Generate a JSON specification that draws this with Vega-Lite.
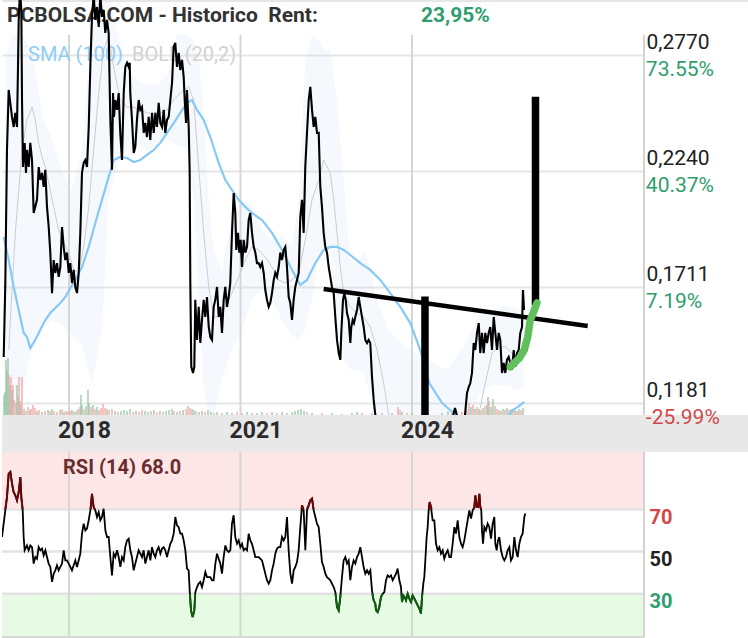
{
"$schema": "https://vega.github.io/schema/vega-lite/v6.json",
"padding": 0,
"background": "#ffffff",
"spacing": 37,
"bounds": "flush",
"config": {"view": {"stroke": null}, "font": "Roboto"},
"datasets": {
"price": [{"t":2016.858,"p":0.139},{"t":2016.886,"p":0.1728},{"t":2016.915,"p":0.2336},{"t":2016.945,"p":0.261},{"t":2016.973,"p":0.2551},{"t":2017.003,"p":0.2487},{"t":2017.033,"p":0.2441},{"t":2017.061,"p":0.2505},{"t":2017.09,"p":0.2441},{"t":2017.108,"p":0.2715},{"t":2017.12,"p":0.293},{"t":2017.143,"p":0.3067},{"t":2017.166,"p":0.2976},{"t":2017.178,"p":0.2564},{"t":2017.195,"p":0.2258},{"t":2017.225,"p":0.2368},{"t":2017.248,"p":0.2231},{"t":2017.265,"p":0.2336},{"t":2017.295,"p":0.2258},{"t":2017.323,"p":0.2368},{"t":2017.353,"p":0.229},{"t":2017.382,"p":0.2048},{"t":2017.41,"p":0.2076},{"t":2017.44,"p":0.2108},{"t":2017.47,"p":0.2258},{"t":2017.498,"p":0.2199},{"t":2017.528,"p":0.2231},{"t":2017.557,"p":0.2167},{"t":2017.585,"p":0.2245},{"t":2017.615,"p":0.2076},{"t":2017.645,"p":0.1984},{"t":2017.673,"p":0.1867},{"t":2017.703,"p":0.1682},{"t":2017.732,"p":0.1833},{"t":2017.76,"p":0.1774},{"t":2017.79,"p":0.1819},{"t":2017.82,"p":0.1756},{"t":2017.848,"p":0.1801},{"t":2017.878,"p":0.1984},{"t":2017.907,"p":0.1893},{"t":2017.935,"p":0.1833},{"t":2017.965,"p":0.1867},{"t":2017.995,"p":0.1774},{"t":2018.023,"p":0.1819},{"t":2018.052,"p":0.1728},{"t":2018.082,"p":0.1788},{"t":2018.11,"p":0.171},{"t":2018.14,"p":0.1682},{"t":2018.17,"p":0.1774},{"t":2018.198,"p":0.1957},{"t":2018.227,"p":0.2231},{"t":2018.257,"p":0.2277},{"t":2018.285,"p":0.229},{"t":2018.315,"p":0.2258},{"t":2018.345,"p":0.2441},{"t":2018.373,"p":0.2715},{"t":2018.402,"p":0.2944},{"t":2018.432,"p":0.3044},{"t":2018.46,"p":0.293},{"t":2018.49,"p":0.2989},{"t":2018.52,"p":0.2898},{"t":2018.548,"p":0.3044},{"t":2018.577,"p":0.2944},{"t":2018.607,"p":0.2976},{"t":2018.635,"p":0.2871},{"t":2018.665,"p":0.293},{"t":2018.694,"p":0.2871},{"t":2018.722,"p":0.2487},{"t":2018.752,"p":0.2245},{"t":2018.77,"p":0.2596},{"t":2018.787,"p":0.2487},{"t":2018.81,"p":0.2564},{"t":2018.84,"p":0.2519},{"t":2018.869,"p":0.2596},{"t":2018.897,"p":0.2414},{"t":2018.927,"p":0.229},{"t":2018.957,"p":0.2596},{"t":2018.985,"p":0.2715},{"t":2019.015,"p":0.2734},{"t":2019.044,"p":0.2715},{"t":2019.062,"p":0.2734},{"t":2019.072,"p":0.2596},{"t":2019.102,"p":0.2473},{"t":2019.132,"p":0.2322},{"t":2019.16,"p":0.235},{"t":2019.189,"p":0.2473},{"t":2019.219,"p":0.2564},{"t":2019.247,"p":0.2519},{"t":2019.277,"p":0.2532},{"t":2019.307,"p":0.2414},{"t":2019.335,"p":0.2459},{"t":2019.364,"p":0.2395},{"t":2019.394,"p":0.2487},{"t":2019.422,"p":0.2382},{"t":2019.452,"p":0.2505},{"t":2019.482,"p":0.2414},{"t":2019.51,"p":0.2505},{"t":2019.539,"p":0.2441},{"t":2019.569,"p":0.2551},{"t":2019.597,"p":0.2459},{"t":2019.627,"p":0.2441},{"t":2019.657,"p":0.2519},{"t":2019.684,"p":0.2414},{"t":2019.714,"p":0.2473},{"t":2019.744,"p":0.2487},{"t":2019.772,"p":0.2564},{"t":2019.802,"p":0.2642},{"t":2019.831,"p":0.2807},{"t":2019.859,"p":0.2825},{"t":2019.889,"p":0.2715},{"t":2019.919,"p":0.2779},{"t":2019.947,"p":0.2701},{"t":2019.977,"p":0.2747},{"t":2020.006,"p":0.267},{"t":2020.024,"p":0.2564},{"t":2020.047,"p":0.2459},{"t":2020.064,"p":0.261},{"t":2020.094,"p":0.2441},{"t":2020.111,"p":0.2231},{"t":2020.122,"p":0.1728},{"t":2020.139,"p":0.1345},{"t":2020.169,"p":0.1317},{"t":2020.192,"p":0.1345},{"t":2020.209,"p":0.1651},{"t":2020.239,"p":0.1468},{"t":2020.269,"p":0.1619},{"t":2020.297,"p":0.1454},{"t":2020.326,"p":0.1559},{"t":2020.356,"p":0.1651},{"t":2020.384,"p":0.1573},{"t":2020.414,"p":0.1664},{"t":2020.444,"p":0.1527},{"t":2020.472,"p":0.1481},{"t":2020.501,"p":0.1468},{"t":2020.531,"p":0.1619},{"t":2020.559,"p":0.1651},{"t":2020.589,"p":0.171},{"t":2020.619,"p":0.1573},{"t":2020.647,"p":0.1619},{"t":2020.676,"p":0.15},{"t":2020.706,"p":0.1651},{"t":2020.734,"p":0.171},{"t":2020.764,"p":0.1619},{"t":2020.793,"p":0.1664},{"t":2020.821,"p":0.1728},{"t":2020.851,"p":0.1957},{"t":2020.881,"p":0.2139},{"t":2020.909,"p":0.2048},{"t":2020.926,"p":0.1879},{"t":2020.956,"p":0.1957},{"t":2020.979,"p":0.1867},{"t":2021.003,"p":0.1925},{"t":2021.026,"p":0.1801},{"t":2021.056,"p":0.1925},{"t":2021.084,"p":0.1867},{"t":2021.114,"p":0.1893},{"t":2021.143,"p":0.2016},{"t":2021.171,"p":0.2048},{"t":2021.201,"p":0.1957},{"t":2021.231,"p":0.1893},{"t":2021.259,"p":0.1867},{"t":2021.288,"p":0.1819},{"t":2021.318,"p":0.1819},{"t":2021.346,"p":0.1801},{"t":2021.376,"p":0.1819},{"t":2021.406,"p":0.1774},{"t":2021.434,"p":0.1696},{"t":2021.463,"p":0.1651},{"t":2021.493,"p":0.1619},{"t":2021.521,"p":0.1637},{"t":2021.551,"p":0.1682},{"t":2021.581,"p":0.1742},{"t":2021.609,"p":0.1774},{"t":2021.638,"p":0.1756},{"t":2021.668,"p":0.1801},{"t":2021.696,"p":0.1867},{"t":2021.726,"p":0.1833},{"t":2021.756,"p":0.1879},{"t":2021.784,"p":0.1893},{"t":2021.813,"p":0.1801},{"t":2021.843,"p":0.1664},{"t":2021.871,"p":0.1637},{"t":2021.901,"p":0.1559},{"t":2021.93,"p":0.1651},{"t":2021.958,"p":0.171},{"t":2021.988,"p":0.1742},{"t":2022.018,"p":0.1774},{"t":2022.046,"p":0.203},{"t":2022.076,"p":0.2108},{"t":2022.105,"p":0.1957},{"t":2022.133,"p":0.2258},{"t":2022.163,"p":0.2414},{"t":2022.193,"p":0.2564},{"t":2022.221,"p":0.2624},{"t":2022.251,"p":0.2519},{"t":2022.28,"p":0.2441},{"t":2022.308,"p":0.2487},{"t":2022.338,"p":0.2414},{"t":2022.368,"p":0.2414},{"t":2022.396,"p":0.2167},{"t":2022.425,"p":0.2076},{"t":2022.455,"p":0.1957},{"t":2022.483,"p":0.1893},{"t":2022.513,"p":0.1867},{"t":2022.543,"p":0.1801},{"t":2022.571,"p":0.1756},{"t":2022.6,"p":0.171},{"t":2022.63,"p":0.1682},{"t":2022.658,"p":0.1573},{"t":2022.688,"p":0.1468},{"t":2022.718,"p":0.1408},{"t":2022.746,"p":0.1377},{"t":2022.763,"p":0.15},{"t":2022.793,"p":0.1651},{"t":2022.816,"p":0.1682},{"t":2022.84,"p":0.1651},{"t":2022.863,"p":0.1591},{"t":2022.893,"p":0.1559},{"t":2022.921,"p":0.1454},{"t":2022.938,"p":0.1527},{"t":2022.962,"p":0.1559},{"t":2022.985,"p":0.1545},{"t":2023.008,"p":0.1573},{"t":2023.038,"p":0.1605},{"t":2023.067,"p":0.1664},{"t":2023.095,"p":0.1619},{"t":2023.125,"p":0.1573},{"t":2023.155,"p":0.1527},{"t":2023.183,"p":0.1468},{"t":2023.213,"p":0.1454},{"t":2023.242,"p":0.1468},{"t":2023.27,"p":0.1454},{"t":2023.3,"p":0.1299},{"t":2023.33,"p":0.1194},{"t":2023.358,"p":0.1125},{"t":2023.388,"p":0.108},{"t":2023.475,"p":0.1011},{"t":2023.65,"p":0.0942},{"t":2023.825,"p":0.0874},{"t":2024.0,"p":0.0828},{"t":2024.087,"p":0.0874},{"t":2024.175,"p":0.0965},{"t":2024.262,"p":0.1058},{"t":2024.35,"p":0.1011},{"t":2024.525,"p":0.1034},{"t":2024.699,"p":0.1102},{"t":2024.752,"p":0.1157},{"t":2024.804,"p":0.1102},{"t":2024.874,"p":0.108},{"t":2024.927,"p":0.1125},{"t":2024.962,"p":0.1226},{"t":2024.992,"p":0.1253},{"t":2025.02,"p":0.1271},{"t":2025.049,"p":0.1317},{"t":2025.079,"p":0.1454},{"t":2025.107,"p":0.1422},{"t":2025.137,"p":0.15},{"t":2025.167,"p":0.1545},{"t":2025.194,"p":0.1408},{"t":2025.224,"p":0.15},{"t":2025.254,"p":0.1408},{"t":2025.282,"p":0.15},{"t":2025.312,"p":0.1454},{"t":2025.341,"p":0.15},{"t":2025.369,"p":0.1527},{"t":2025.399,"p":0.1422},{"t":2025.429,"p":0.1573},{"t":2025.457,"p":0.15},{"t":2025.487,"p":0.1422},{"t":2025.516,"p":0.15},{"t":2025.544,"p":0.1468},{"t":2025.574,"p":0.1317},{"t":2025.604,"p":0.1363},{"t":2025.632,"p":0.1317},{"t":2025.661,"p":0.1377},{"t":2025.691,"p":0.139},{"t":2025.719,"p":0.1363},{"t":2025.749,"p":0.1332},{"t":2025.779,"p":0.1422},{"t":2025.807,"p":0.1345},{"t":2025.836,"p":0.1408},{"t":2025.866,"p":0.1422},{"t":2025.894,"p":0.15},{"t":2025.924,"p":0.1527},{"t":2025.941,"p":0.1696},{"t":2025.959,"p":0.1605}],
"sma": [{"t":2016.858,"p":0.1938},{"t":2016.945,"p":0.1833},{"t":2017.033,"p":0.171},{"t":2017.12,"p":0.1605},{"t":2017.208,"p":0.15},{"t":2017.265,"p":0.1481},{"t":2017.323,"p":0.1431},{"t":2017.41,"p":0.1468},{"t":2017.498,"p":0.1514},{"t":2017.585,"p":0.1559},{"t":2017.673,"p":0.1591},{"t":2017.76,"p":0.1614},{"t":2017.848,"p":0.1637},{"t":2017.935,"p":0.1664},{"t":2018.023,"p":0.1705},{"t":2018.11,"p":0.1742},{"t":2018.227,"p":0.1801},{"t":2018.345,"p":0.1893},{"t":2018.46,"p":0.2002},{"t":2018.577,"p":0.2108},{"t":2018.694,"p":0.2213},{"t":2018.782,"p":0.229},{"t":2018.897,"p":0.2304},{"t":2019.015,"p":0.2299},{"t":2019.132,"p":0.2281},{"t":2019.247,"p":0.229},{"t":2019.364,"p":0.2313},{"t":2019.482,"p":0.2336},{"t":2019.597,"p":0.2368},{"t":2019.714,"p":0.2414},{"t":2019.831,"p":0.2459},{"t":2019.947,"p":0.2505},{"t":2020.064,"p":0.2551},{"t":2020.152,"p":0.2564},{"t":2020.239,"p":0.2519},{"t":2020.356,"p":0.2473},{"t":2020.472,"p":0.2395},{"t":2020.619,"p":0.2277},{"t":2020.734,"p":0.2199},{"t":2020.851,"p":0.2153},{"t":2020.968,"p":0.2108},{"t":2021.084,"p":0.2076},{"t":2021.201,"p":0.2048},{"t":2021.376,"p":0.2016},{"t":2021.551,"p":0.1957},{"t":2021.726,"p":0.1879},{"t":2021.901,"p":0.1788},{"t":2022.046,"p":0.1719},{"t":2022.163,"p":0.1742},{"t":2022.308,"p":0.1819},{"t":2022.455,"p":0.1879},{"t":2022.571,"p":0.1893},{"t":2022.688,"p":0.1893},{"t":2022.805,"p":0.1879},{"t":2022.921,"p":0.1856},{"t":2023.095,"p":0.1819},{"t":2023.27,"p":0.1788},{"t":2023.445,"p":0.1742},{"t":2023.62,"p":0.1682},{"t":2023.795,"p":0.1619},{"t":2023.97,"p":0.1545},{"t":2024.145,"p":0.1422},{"t":2024.302,"p":0.1271},{"t":2024.525,"p":0.118},{"t":2024.769,"p":0.1125},{"t":2024.962,"p":0.108},{"t":2025.224,"p":0.1057},{"t":2025.487,"p":0.108},{"t":2025.661,"p":0.1111},{"t":2025.761,"p":0.1148},{"t":2025.854,"p":0.1162},{"t":2025.964,"p":0.1185}],
"boll": [{"t":2016.945,"p":0.1422},{"t":2017.061,"p":0.1957},{"t":2017.178,"p":0.2336},{"t":2017.265,"p":0.2473},{"t":2017.353,"p":0.2532},{"t":2017.41,"p":0.2473},{"t":2017.47,"p":0.2368},{"t":2017.528,"p":0.2304},{"t":2017.585,"p":0.2258},{"t":2017.645,"p":0.2185},{"t":2017.732,"p":0.2076},{"t":2017.82,"p":0.197},{"t":2017.907,"p":0.1911},{"t":2017.995,"p":0.1867},{"t":2018.082,"p":0.1788},{"t":2018.17,"p":0.1774},{"t":2018.257,"p":0.1893},{"t":2018.345,"p":0.2076},{"t":2018.432,"p":0.2336},{"t":2018.52,"p":0.2596},{"t":2018.607,"p":0.2793},{"t":2018.694,"p":0.2852},{"t":2018.782,"p":0.2715},{"t":2018.897,"p":0.2564},{"t":2019.015,"p":0.2532},{"t":2019.132,"p":0.2532},{"t":2019.247,"p":0.2519},{"t":2019.364,"p":0.2505},{"t":2019.482,"p":0.2505},{"t":2019.597,"p":0.2505},{"t":2019.714,"p":0.2519},{"t":2019.831,"p":0.2564},{"t":2019.947,"p":0.2596},{"t":2020.094,"p":0.2624},{"t":2020.181,"p":0.2564},{"t":2020.269,"p":0.2258},{"t":2020.356,"p":0.1957},{"t":2020.444,"p":0.171},{"t":2020.531,"p":0.1573},{"t":2020.619,"p":0.1573},{"t":2020.734,"p":0.1619},{"t":2020.851,"p":0.1682},{"t":2020.968,"p":0.1756},{"t":2021.084,"p":0.1833},{"t":2021.201,"p":0.1893},{"t":2021.318,"p":0.1879},{"t":2021.434,"p":0.1847},{"t":2021.551,"p":0.1801},{"t":2021.668,"p":0.1742},{"t":2021.784,"p":0.1728},{"t":2021.901,"p":0.1742},{"t":2022.018,"p":0.1774},{"t":2022.133,"p":0.1925},{"t":2022.251,"p":0.2108},{"t":2022.368,"p":0.2199},{"t":2022.455,"p":0.229},{"t":2022.571,"p":0.2231},{"t":2022.63,"p":0.2108},{"t":2022.688,"p":0.1957},{"t":2022.746,"p":0.1801},{"t":2022.805,"p":0.1682},{"t":2022.921,"p":0.1619},{"t":2023.038,"p":0.1591},{"t":2023.155,"p":0.1573},{"t":2023.27,"p":0.1527},{"t":2023.388,"p":0.1422},{"t":2023.505,"p":0.1271},{"t":2023.592,"p":0.1125},{"t":2023.737,"p":0.1011},{"t":2024.175,"p":0.092},{"t":2024.612,"p":0.1011},{"t":2025.049,"p":0.108},{"t":2025.167,"p":0.1125},{"t":2025.282,"p":0.1271},{"t":2025.399,"p":0.1408},{"t":2025.516,"p":0.1436},{"t":2025.632,"p":0.1436},{"t":2025.749,"p":0.1408},{"t":2025.866,"p":0.139},{"t":2025.954,"p":0.1399}],
"band": [{"t":2016.886,"lo":0.1125,"hi":0.2747},{"t":2017.003,"lo":0.1125,"hi":0.2861},{"t":2017.178,"lo":0.1239,"hi":0.2861},{"t":2017.353,"lo":0.1422,"hi":0.2793},{"t":2017.528,"lo":0.1514,"hi":0.2496},{"t":2017.703,"lo":0.1559,"hi":0.2382},{"t":2017.878,"lo":0.1536,"hi":0.2245},{"t":2018.052,"lo":0.1491,"hi":0.2153},{"t":2018.227,"lo":0.1445,"hi":0.2336},{"t":2018.402,"lo":0.1262,"hi":0.293},{"t":2018.577,"lo":0.1514,"hi":0.3021},{"t":2018.694,"lo":0.2108,"hi":0.3021},{"t":2018.84,"lo":0.2267,"hi":0.2884},{"t":2019.015,"lo":0.2336,"hi":0.2701},{"t":2019.189,"lo":0.2359,"hi":0.2656},{"t":2019.364,"lo":0.2336,"hi":0.2633},{"t":2019.539,"lo":0.2359,"hi":0.2633},{"t":2019.714,"lo":0.2382,"hi":0.2679},{"t":2019.889,"lo":0.2359,"hi":0.2861},{"t":2020.064,"lo":0.2336,"hi":0.2861},{"t":2020.181,"lo":0.2108,"hi":0.2839},{"t":2020.269,"lo":0.1651,"hi":0.2747},{"t":2020.356,"lo":0.1239,"hi":0.2519},{"t":2020.444,"lo":0.1125,"hi":0.2108},{"t":2020.531,"lo":0.1125,"hi":0.1879},{"t":2020.676,"lo":0.1285,"hi":0.1788},{"t":2020.851,"lo":0.1422,"hi":0.2039},{"t":2021.026,"lo":0.1514,"hi":0.2108},{"t":2021.201,"lo":0.1651,"hi":0.2085},{"t":2021.376,"lo":0.1696,"hi":0.197},{"t":2021.551,"lo":0.1651,"hi":0.1925},{"t":2021.726,"lo":0.1559,"hi":0.1948},{"t":2021.901,"lo":0.1491,"hi":0.1902},{"t":2022.018,"lo":0.1468,"hi":0.2108},{"t":2022.133,"lo":0.1514,"hi":0.2747},{"t":2022.251,"lo":0.1651,"hi":0.2861},{"t":2022.368,"lo":0.1856,"hi":0.2839},{"t":2022.455,"lo":0.1879,"hi":0.2793},{"t":2022.571,"lo":0.1879,"hi":0.2793},{"t":2022.688,"lo":0.1514,"hi":0.2564},{"t":2022.805,"lo":0.1377,"hi":0.2199},{"t":2022.921,"lo":0.1331,"hi":0.1833},{"t":2023.038,"lo":0.1331,"hi":0.181},{"t":2023.155,"lo":0.1308,"hi":0.1879},{"t":2023.27,"lo":0.1217,"hi":0.1788},{"t":2023.388,"lo":0.105,"hi":0.1651},{"t":2023.592,"lo":0.095,"hi":0.1514},{"t":2023.825,"lo":0.09,"hi":0.1445},{"t":2024.175,"lo":0.09,"hi":0.139},{"t":2024.612,"lo":0.095,"hi":0.1331},{"t":2024.962,"lo":0.1,"hi":0.1468},{"t":2025.167,"lo":0.1217,"hi":0.1582},{"t":2025.399,"lo":0.1262,"hi":0.1605},{"t":2025.632,"lo":0.1262,"hi":0.1628},{"t":2025.866,"lo":0.1239,"hi":0.1605},{"t":2025.954,"lo":0.1262,"hi":0.1596}],
"vol": [{"t":2016.863,"v":20,"d":"u"},{"t":2016.88,"v":23,"d":"u"},{"t":2016.898,"v":55,"d":"u"},{"t":2016.915,"v":45,"d":"u"},{"t":2016.933,"v":57,"d":"u"},{"t":2016.95,"v":40,"d":"d"},{"t":2016.968,"v":30,"d":"u"},{"t":2016.985,"v":38,"d":"d"},{"t":2017.003,"v":25,"d":"u"},{"t":2017.02,"v":30,"d":"d"},{"t":2017.038,"v":15,"d":"d"},{"t":2017.073,"v":12,"d":"u"},{"t":2017.09,"v":30,"d":"u"},{"t":2017.108,"v":20,"d":"d"},{"t":2017.125,"v":38,"d":"d"},{"t":2017.143,"v":14,"d":"u"},{"t":2017.16,"v":10,"d":"d"},{"t":2017.178,"v":38,"d":"d"},{"t":2017.213,"v":6,"d":"u"},{"t":2017.248,"v":4,"d":"d"},{"t":2017.283,"v":8,"d":"d"},{"t":2017.318,"v":5,"d":"u"},{"t":2017.335,"v":6,"d":"d"},{"t":2017.37,"v":10,"d":"d"},{"t":2017.405,"v":7,"d":"d"},{"t":2017.44,"v":4,"d":"u"},{"t":2017.475,"v":5,"d":"d"},{"t":2017.528,"v":3,"d":"u"},{"t":2017.58,"v":4,"d":"d"},{"t":2017.633,"v":5,"d":"u"},{"t":2017.668,"v":4,"d":"d"},{"t":2017.703,"v":6,"d":"u"},{"t":2017.738,"v":4,"d":"d"},{"t":2017.79,"v":3,"d":"d"},{"t":2017.843,"v":5,"d":"u"},{"t":2017.878,"v":6,"d":"d"},{"t":2017.913,"v":3,"d":"u"},{"t":2017.948,"v":4,"d":"d"},{"t":2017.982,"v":3,"d":"d"},{"t":2018.017,"v":4,"d":"d"},{"t":2018.052,"v":5,"d":"u"},{"t":2018.087,"v":3,"d":"u"},{"t":2018.122,"v":4,"d":"d"},{"t":2018.157,"v":6,"d":"u"},{"t":2018.192,"v":8,"d":"d"},{"t":2018.21,"v":20,"d":"u"},{"t":2018.227,"v":10,"d":"u"},{"t":2018.262,"v":6,"d":"d"},{"t":2018.297,"v":9,"d":"u"},{"t":2018.332,"v":25,"d":"u"},{"t":2018.35,"v":12,"d":"u"},{"t":2018.385,"v":8,"d":"d"},{"t":2018.42,"v":10,"d":"u"},{"t":2018.455,"v":6,"d":"d"},{"t":2018.49,"v":8,"d":"u"},{"t":2018.525,"v":5,"d":"d"},{"t":2018.56,"v":7,"d":"d"},{"t":2018.595,"v":11,"d":"d"},{"t":2018.63,"v":7,"d":"d"},{"t":2018.665,"v":6,"d":"u"},{"t":2018.7,"v":5,"d":"d"},{"t":2018.752,"v":6,"d":"d"},{"t":2018.805,"v":4,"d":"u"},{"t":2018.857,"v":3,"d":"d"},{"t":2018.91,"v":4,"d":"u"},{"t":2018.962,"v":5,"d":"u"},{"t":2019.015,"v":4,"d":"u"},{"t":2019.067,"v":6,"d":"u"},{"t":2019.12,"v":3,"d":"d"},{"t":2019.172,"v":4,"d":"u"},{"t":2019.224,"v":3,"d":"d"},{"t":2019.277,"v":5,"d":"d"},{"t":2019.329,"v":4,"d":"u"},{"t":2019.382,"v":3,"d":"u"},{"t":2019.434,"v":4,"d":"d"},{"t":2019.486,"v":5,"d":"u"},{"t":2019.539,"v":3,"d":"d"},{"t":2019.591,"v":4,"d":"u"},{"t":2019.644,"v":3,"d":"d"},{"t":2019.697,"v":4,"d":"u"},{"t":2019.749,"v":5,"d":"u"},{"t":2019.802,"v":6,"d":"u"},{"t":2019.837,"v":4,"d":"d"},{"t":2019.889,"v":3,"d":"u"},{"t":2019.942,"v":4,"d":"d"},{"t":2019.995,"v":5,"d":"u"},{"t":2020.047,"v":6,"d":"d"},{"t":2020.082,"v":9,"d":"d"},{"t":2020.117,"v":7,"d":"d"},{"t":2020.152,"v":6,"d":"u"},{"t":2020.186,"v":5,"d":"u"},{"t":2020.221,"v":4,"d":"d"},{"t":2020.274,"v":3,"d":"u"},{"t":2020.326,"v":4,"d":"u"},{"t":2020.379,"v":3,"d":"d"},{"t":2020.431,"v":5,"d":"u"},{"t":2020.484,"v":3,"d":"u"},{"t":2020.536,"v":2,"d":"d"},{"t":2020.589,"v":3,"d":"u"},{"t":2020.676,"v":2,"d":"d"},{"t":2020.764,"v":3,"d":"u"},{"t":2020.851,"v":2,"d":"u"},{"t":2020.939,"v":3,"d":"d"},{"t":2021.026,"v":2,"d":"d"},{"t":2021.113,"v":3,"d":"u"},{"t":2021.201,"v":2,"d":"d"},{"t":2021.288,"v":2,"d":"u"},{"t":2021.376,"v":3,"d":"u"},{"t":2021.463,"v":2,"d":"d"},{"t":2021.551,"v":3,"d":"u"},{"t":2021.638,"v":2,"d":"d"},{"t":2021.726,"v":3,"d":"u"},{"t":2021.813,"v":2,"d":"d"},{"t":2021.901,"v":3,"d":"u"},{"t":2021.953,"v":4,"d":"u"},{"t":2022.006,"v":5,"d":"u"},{"t":2022.058,"v":6,"d":"u"},{"t":2022.111,"v":4,"d":"u"},{"t":2022.163,"v":3,"d":"d"},{"t":2022.251,"v":2,"d":"u"},{"t":2022.425,"v":2,"d":"d"},{"t":2022.6,"v":2,"d":"u"},{"t":2022.775,"v":1,"d":"d"},{"t":2022.95,"v":2,"d":"u"},{"t":2023.038,"v":3,"d":"u"},{"t":2023.125,"v":2,"d":"d"},{"t":2023.3,"v":2,"d":"u"},{"t":2023.475,"v":2,"d":"d"},{"t":2023.65,"v":2,"d":"d"},{"t":2023.755,"v":8,"d":"d"},{"t":2023.79,"v":5,"d":"d"},{"t":2023.825,"v":3,"d":"u"},{"t":2023.912,"v":2,"d":"d"},{"t":2024.0,"v":2,"d":"u"},{"t":2024.175,"v":2,"d":"d"},{"t":2024.525,"v":2,"d":"u"},{"t":2024.629,"v":4,"d":"u"},{"t":2024.699,"v":3,"d":"d"},{"t":2024.787,"v":2,"d":"u"},{"t":2024.874,"v":3,"d":"d"},{"t":2024.962,"v":5,"d":"d"},{"t":2024.997,"v":12,"d":"d"},{"t":2025.032,"v":8,"d":"u"},{"t":2025.067,"v":10,"d":"d"},{"t":2025.102,"v":6,"d":"u"},{"t":2025.137,"v":8,"d":"d"},{"t":2025.172,"v":6,"d":"u"},{"t":2025.207,"v":5,"d":"d"},{"t":2025.242,"v":7,"d":"u"},{"t":2025.277,"v":9,"d":"d"},{"t":2025.312,"v":10,"d":"u"},{"t":2025.329,"v":18,"d":"u"},{"t":2025.347,"v":14,"d":"d"},{"t":2025.382,"v":8,"d":"u"},{"t":2025.417,"v":16,"d":"u"},{"t":2025.452,"v":9,"d":"d"},{"t":2025.487,"v":6,"d":"d"},{"t":2025.522,"v":5,"d":"u"},{"t":2025.556,"v":4,"d":"d"},{"t":2025.591,"v":6,"d":"u"},{"t":2025.626,"v":5,"d":"d"},{"t":2025.661,"v":7,"d":"u"},{"t":2025.696,"v":5,"d":"d"},{"t":2025.731,"v":6,"d":"u"},{"t":2025.766,"v":4,"d":"d"},{"t":2025.801,"v":5,"d":"u"},{"t":2025.836,"v":4,"d":"d"},{"t":2025.871,"v":6,"d":"u"},{"t":2025.906,"v":5,"d":"d"},{"t":2025.941,"v":7,"d":"u"}],
"draw": [{"t":2022.455,"p":0.1701,"g":"trend"},{"t":2027.073,"p":0.1532,"g":"trend"},{"t":2024.227,"p":0.1666,"g":"v1"},{"t":2024.227,"p":0.09,"g":"v1"},{"t":2026.16,"p":0.2579,"g":"v2"},{"t":2026.16,"p":0.1628,"g":"v2"},{"t":2025.719,"p":0.1345,"g":"green"},{"t":2025.877,"p":0.1385,"g":"green"},{"t":2025.964,"p":0.1422,"g":"green"},{"t":2026.023,"p":0.1481,"g":"green"},{"t":2026.069,"p":0.1559,"g":"green"},{"t":2026.128,"p":0.1596,"g":"green"},{"t":2026.186,"p":0.1637,"g":"green"}],
"pct": [{"p":0.277,"lab":"73.55%"},{"p":0.224,"lab":"40.37%"},{"p":0.1711,"lab":"7.19%"},{"p":0.1181,"lab":"-25.99%"}],
"years": [{"t":2018},{"t":2021},{"t":2024}],
"rsi": [{"t":2016.828,"r":56.9},{"t":2016.886,"r":69.5},{"t":2016.915,"r":75.8},{"t":2016.945,"r":86.9},{"t":2016.974,"r":87.7},{"t":2017.003,"r":82.2},{"t":2017.032,"r":78.2},{"t":2017.061,"r":76.6},{"t":2017.09,"r":74.3},{"t":2017.12,"r":78.2},{"t":2017.149,"r":85.3},{"t":2017.166,"r":75.8},{"t":2017.19,"r":69.5},{"t":2017.207,"r":56.9},{"t":2017.224,"r":50.6},{"t":2017.265,"r":52.9},{"t":2017.294,"r":50.6},{"t":2017.324,"r":52.9},{"t":2017.353,"r":52.1},{"t":2017.382,"r":44.3},{"t":2017.411,"r":47.4},{"t":2017.44,"r":46.6},{"t":2017.469,"r":52.1},{"t":2017.499,"r":50.6},{"t":2017.528,"r":51.4},{"t":2017.557,"r":48.2},{"t":2017.586,"r":50.6},{"t":2017.615,"r":47.4},{"t":2017.644,"r":44.3},{"t":2017.673,"r":42.7},{"t":2017.703,"r":35.6},{"t":2017.732,"r":39.5},{"t":2017.761,"r":41.1},{"t":2017.79,"r":43.5},{"t":2017.819,"r":41.1},{"t":2017.848,"r":42.7},{"t":2017.878,"r":44.3},{"t":2017.907,"r":50.6},{"t":2017.936,"r":45.8},{"t":2017.965,"r":45.8},{"t":2017.994,"r":44.3},{"t":2018.023,"r":42.7},{"t":2018.052,"r":41.1},{"t":2018.082,"r":43.5},{"t":2018.111,"r":45.8},{"t":2018.14,"r":42.7},{"t":2018.169,"r":45.8},{"t":2018.198,"r":49.0},{"t":2018.227,"r":58.5},{"t":2018.257,"r":63.2},{"t":2018.286,"r":60.0},{"t":2018.315,"r":60.9},{"t":2018.344,"r":64.8},{"t":2018.373,"r":69.5},{"t":2018.402,"r":77.4},{"t":2018.431,"r":71.1},{"t":2018.461,"r":69.5},{"t":2018.49,"r":66.4},{"t":2018.519,"r":68.7},{"t":2018.548,"r":64.8},{"t":2018.577,"r":66.4},{"t":2018.606,"r":70.3},{"t":2018.636,"r":60.0},{"t":2018.665,"r":56.9},{"t":2018.694,"r":56.9},{"t":2018.723,"r":47.4},{"t":2018.752,"r":38.7},{"t":2018.781,"r":49.0},{"t":2018.81,"r":47.4},{"t":2018.84,"r":50.6},{"t":2018.869,"r":47.4},{"t":2018.898,"r":42.7},{"t":2018.927,"r":47.4},{"t":2018.956,"r":45.8},{"t":2018.985,"r":52.1},{"t":2019.015,"r":55.3},{"t":2019.044,"r":56.1},{"t":2019.073,"r":50.6},{"t":2019.102,"r":47.4},{"t":2019.131,"r":41.1},{"t":2019.16,"r":44.3},{"t":2019.189,"r":47.4},{"t":2019.219,"r":50.6},{"t":2019.248,"r":49.0},{"t":2019.277,"r":47.4},{"t":2019.306,"r":50.6},{"t":2019.335,"r":44.3},{"t":2019.364,"r":47.4},{"t":2019.393,"r":50.6},{"t":2019.423,"r":45.8},{"t":2019.452,"r":52.1},{"t":2019.481,"r":49.0},{"t":2019.51,"r":47.4},{"t":2019.539,"r":50.6},{"t":2019.568,"r":52.1},{"t":2019.598,"r":49.0},{"t":2019.627,"r":51.4},{"t":2019.656,"r":52.1},{"t":2019.685,"r":50.6},{"t":2019.714,"r":47.4},{"t":2019.743,"r":50.6},{"t":2019.772,"r":53.7},{"t":2019.802,"r":55.3},{"t":2019.831,"r":58.5},{"t":2019.86,"r":66.4},{"t":2019.889,"r":62.4},{"t":2019.918,"r":61.6},{"t":2019.947,"r":58.5},{"t":2019.977,"r":58.5},{"t":2020.006,"r":55.3},{"t":2020.035,"r":50.6},{"t":2020.064,"r":41.9},{"t":2020.093,"r":41.1},{"t":2020.111,"r":31.6},{"t":2020.134,"r":22.1},{"t":2020.163,"r":19.0},{"t":2020.192,"r":22.1},{"t":2020.21,"r":30.8},{"t":2020.239,"r":33.2},{"t":2020.268,"r":34.8},{"t":2020.297,"r":35.6},{"t":2020.326,"r":33.2},{"t":2020.356,"r":36.4},{"t":2020.385,"r":40.3},{"t":2020.414,"r":37.9},{"t":2020.443,"r":37.9},{"t":2020.472,"r":37.9},{"t":2020.501,"r":36.4},{"t":2020.53,"r":36.4},{"t":2020.56,"r":44.3},{"t":2020.589,"r":49.0},{"t":2020.618,"r":46.6},{"t":2020.647,"r":44.3},{"t":2020.676,"r":39.5},{"t":2020.705,"r":47.4},{"t":2020.735,"r":52.9},{"t":2020.764,"r":50.6},{"t":2020.793,"r":49.8},{"t":2020.822,"r":50.6},{"t":2020.851,"r":63.2},{"t":2020.88,"r":67.2},{"t":2020.909,"r":56.9},{"t":2020.939,"r":53.7},{"t":2020.968,"r":55.3},{"t":2020.997,"r":52.1},{"t":2021.026,"r":53.7},{"t":2021.055,"r":50.6},{"t":2021.084,"r":51.4},{"t":2021.114,"r":50.6},{"t":2021.143,"r":58.5},{"t":2021.172,"r":55.3},{"t":2021.201,"r":53.7},{"t":2021.23,"r":50.6},{"t":2021.259,"r":47.4},{"t":2021.318,"r":47.4},{"t":2021.376,"r":45.8},{"t":2021.405,"r":42.7},{"t":2021.434,"r":39.5},{"t":2021.463,"r":36.4},{"t":2021.493,"r":34.8},{"t":2021.522,"r":36.4},{"t":2021.551,"r":41.1},{"t":2021.58,"r":44.3},{"t":2021.609,"r":49.0},{"t":2021.638,"r":51.4},{"t":2021.667,"r":52.1},{"t":2021.697,"r":52.1},{"t":2021.726,"r":56.9},{"t":2021.755,"r":55.3},{"t":2021.784,"r":56.9},{"t":2021.813,"r":66.4},{"t":2021.842,"r":50.6},{"t":2021.872,"r":39.5},{"t":2021.901,"r":34.8},{"t":2021.93,"r":41.1},{"t":2021.959,"r":42.7},{"t":2021.988,"r":45.0},{"t":2022.017,"r":50.6},{"t":2022.046,"r":61.6},{"t":2022.076,"r":71.9},{"t":2022.105,"r":69.5},{"t":2022.134,"r":50.6},{"t":2022.163,"r":69.5},{"t":2022.192,"r":71.9},{"t":2022.221,"r":74.3},{"t":2022.251,"r":75.1},{"t":2022.28,"r":69.5},{"t":2022.309,"r":66.4},{"t":2022.338,"r":63.2},{"t":2022.367,"r":61.6},{"t":2022.396,"r":53.7},{"t":2022.425,"r":45.0},{"t":2022.455,"r":42.7},{"t":2022.484,"r":39.5},{"t":2022.513,"r":37.9},{"t":2022.542,"r":37.2},{"t":2022.571,"r":36.4},{"t":2022.6,"r":34.8},{"t":2022.63,"r":33.2},{"t":2022.659,"r":30.8},{"t":2022.688,"r":23.7},{"t":2022.717,"r":22.1},{"t":2022.746,"r":28.4},{"t":2022.775,"r":37.9},{"t":2022.804,"r":45.8},{"t":2022.834,"r":47.4},{"t":2022.863,"r":44.3},{"t":2022.892,"r":45.8},{"t":2022.921,"r":36.4},{"t":2022.95,"r":42.7},{"t":2022.979,"r":45.8},{"t":2023.009,"r":44.3},{"t":2023.038,"r":47.4},{"t":2023.067,"r":49.0},{"t":2023.096,"r":52.1},{"t":2023.125,"r":47.4},{"t":2023.154,"r":42.7},{"t":2023.183,"r":39.5},{"t":2023.213,"r":41.1},{"t":2023.242,"r":39.5},{"t":2023.271,"r":41.1},{"t":2023.3,"r":31.6},{"t":2023.329,"r":26.9},{"t":2023.358,"r":25.3},{"t":2023.37,"r":22.1},{"t":2023.399,"r":21.3},{"t":2023.428,"r":23.7},{"t":2023.457,"r":28.4},{"t":2023.487,"r":30.0},{"t":2023.516,"r":30.8},{"t":2023.545,"r":36.4},{"t":2023.574,"r":38.7},{"t":2023.603,"r":37.9},{"t":2023.632,"r":38.7},{"t":2023.662,"r":36.4},{"t":2023.691,"r":37.9},{"t":2023.72,"r":39.5},{"t":2023.749,"r":41.9},{"t":2023.778,"r":36.4},{"t":2023.807,"r":33.2},{"t":2023.825,"r":26.1},{"t":2023.848,"r":29.2},{"t":2023.871,"r":28.4},{"t":2023.895,"r":26.9},{"t":2023.924,"r":30.0},{"t":2023.953,"r":27.7},{"t":2023.982,"r":26.1},{"t":2024.011,"r":29.2},{"t":2024.041,"r":27.7},{"t":2024.07,"r":26.1},{"t":2024.099,"r":24.5},{"t":2024.128,"r":23.0},{"t":2024.157,"r":20.6},{"t":2024.175,"r":28.4},{"t":2024.198,"r":34.8},{"t":2024.215,"r":37.9},{"t":2024.233,"r":45.8},{"t":2024.256,"r":56.9},{"t":2024.274,"r":61.6},{"t":2024.291,"r":69.5},{"t":2024.309,"r":73.5},{"t":2024.332,"r":71.1},{"t":2024.361,"r":64.8},{"t":2024.39,"r":64.8},{"t":2024.42,"r":53.7},{"t":2024.449,"r":50.6},{"t":2024.478,"r":52.1},{"t":2024.507,"r":49.0},{"t":2024.536,"r":50.6},{"t":2024.565,"r":46.6},{"t":2024.594,"r":49.0},{"t":2024.624,"r":50.6},{"t":2024.653,"r":47.4},{"t":2024.682,"r":47.4},{"t":2024.711,"r":53.7},{"t":2024.74,"r":61.6},{"t":2024.769,"r":58.5},{"t":2024.799,"r":64.8},{"t":2024.828,"r":56.9},{"t":2024.857,"r":53.7},{"t":2024.886,"r":52.1},{"t":2024.915,"r":55.3},{"t":2024.944,"r":60.0},{"t":2024.973,"r":64.8},{"t":2025.003,"r":69.5},{"t":2025.032,"r":65.6},{"t":2025.061,"r":69.5},{"t":2025.09,"r":71.1},{"t":2025.108,"r":76.6},{"t":2025.131,"r":71.1},{"t":2025.154,"r":71.1},{"t":2025.178,"r":77.4},{"t":2025.195,"r":71.1},{"t":2025.212,"r":69.5},{"t":2025.224,"r":60.0},{"t":2025.242,"r":53.7},{"t":2025.265,"r":61.6},{"t":2025.294,"r":60.0},{"t":2025.323,"r":63.2},{"t":2025.352,"r":61.6},{"t":2025.382,"r":56.1},{"t":2025.411,"r":63.2},{"t":2025.44,"r":66.4},{"t":2025.457,"r":53.7},{"t":2025.481,"r":50.6},{"t":2025.504,"r":55.3},{"t":2025.527,"r":56.9},{"t":2025.557,"r":50.6},{"t":2025.586,"r":47.4},{"t":2025.615,"r":45.8},{"t":2025.644,"r":47.4},{"t":2025.673,"r":50.6},{"t":2025.702,"r":52.1},{"t":2025.731,"r":45.8},{"t":2025.761,"r":47.4},{"t":2025.79,"r":56.9},{"t":2025.819,"r":50.6},{"t":2025.848,"r":47.4},{"t":2025.877,"r":53.7},{"t":2025.906,"r":56.9},{"t":2025.935,"r":58.5},{"t":2025.965,"r":66.4},{"t":2025.982,"r":68.0}],
"rsiHi": [{"t":2016.886,"r":70,"g":"a"},{"t":2016.915,"r":75.8,"g":"a"},{"t":2016.945,"r":86.9,"g":"a"},{"t":2016.974,"r":87.7,"g":"a"},{"t":2017.003,"r":82.2,"g":"a"},{"t":2017.032,"r":78.2,"g":"a"},{"t":2017.061,"r":76.6,"g":"a"},{"t":2017.09,"r":74.3,"g":"a"},{"t":2017.12,"r":78.2,"g":"a"},{"t":2017.149,"r":85.3,"g":"a"},{"t":2017.166,"r":75.8,"g":"a"},{"t":2017.19,"r":70,"g":"a"},{"t":2018.379,"r":70,"g":"b"},{"t":2018.402,"r":77.4,"g":"b"},{"t":2018.431,"r":71.1,"g":"b"},{"t":2018.45,"r":70,"g":"b"},{"t":2022.066,"r":70,"g":"c"},{"t":2022.076,"r":71.9,"g":"c"},{"t":2022.1,"r":70,"g":"c"},{"t":2022.16,"r":70,"g":"d"},{"t":2022.192,"r":71.9,"g":"d"},{"t":2022.221,"r":74.3,"g":"d"},{"t":2022.251,"r":75.1,"g":"d"},{"t":2022.278,"r":70,"g":"d"},{"t":2024.294,"r":70,"g":"e"},{"t":2024.309,"r":73.5,"g":"e"},{"t":2024.332,"r":71.1,"g":"e"},{"t":2024.345,"r":70,"g":"e"},{"t":2025.078,"r":70,"g":"f"},{"t":2025.09,"r":71.1,"g":"f"},{"t":2025.108,"r":76.6,"g":"f"},{"t":2025.131,"r":71.1,"g":"f"},{"t":2025.154,"r":71.1,"g":"f"},{"t":2025.178,"r":77.4,"g":"f"},{"t":2025.195,"r":71.1,"g":"f"},{"t":2025.21,"r":70,"g":"f"}],
"rsiLo": [{"t":2020.115,"r":30,"g":"a"},{"t":2020.134,"r":22.1,"g":"a"},{"t":2020.163,"r":19.0,"g":"a"},{"t":2020.192,"r":22.1,"g":"a"},{"t":2020.207,"r":30,"g":"a"},{"t":2022.662,"r":30,"g":"b"},{"t":2022.688,"r":23.7,"g":"b"},{"t":2022.717,"r":22.1,"g":"b"},{"t":2022.746,"r":28.4,"g":"b"},{"t":2022.75,"r":30,"g":"b"},{"t":2023.305,"r":30,"g":"c"},{"t":2023.329,"r":26.9,"g":"c"},{"t":2023.358,"r":25.3,"g":"c"},{"t":2023.37,"r":22.1,"g":"c"},{"t":2023.399,"r":21.3,"g":"c"},{"t":2023.428,"r":23.7,"g":"c"},{"t":2023.457,"r":28.4,"g":"c"},{"t":2023.487,"r":30,"g":"c"},{"t":2023.815,"r":30,"g":"d"},{"t":2023.825,"r":26.1,"g":"d"},{"t":2023.848,"r":29.2,"g":"d"},{"t":2023.871,"r":28.4,"g":"d"},{"t":2023.895,"r":26.9,"g":"d"},{"t":2023.924,"r":30,"g":"d"},{"t":2023.953,"r":27.7,"g":"d"},{"t":2023.982,"r":26.1,"g":"d"},{"t":2024.011,"r":29.2,"g":"d"},{"t":2024.041,"r":27.7,"g":"d"},{"t":2024.07,"r":26.1,"g":"d"},{"t":2024.099,"r":24.5,"g":"d"},{"t":2024.128,"r":23.0,"g":"d"},{"t":2024.157,"r":20.6,"g":"d"},{"t":2024.175,"r":28.4,"g":"d"},{"t":2024.18,"r":30,"g":"d"}]
},
"vconcat": [
{
 "width": 642, "height": 415,
 "resolve": {"scale": {"y": "independent"}},
 "layer": [
  {
   "layer": [
    {"data": {"values": [{}]}, "mark": {"type": "rect", "color": "#e8e8e8", "clip": false},
     "encoding": {"x": {"datum": 2016.828, "type": "quantitative", "scale": {"domain": [2016.828, 2028.058], "nice": false, "zero": false}}, "x2": {"datum": 2029.912},
      "y": {"datum": 0.1125, "type": "quantitative", "scale": {"domain": [0.1125, 0.3021], "nice": false, "zero": false}, "axis": null}, "y2": {"datum": 0.0956}}},
    {"data": {"values": [{}]}, "mark": {"type": "rule", "color": "#e6e6e6", "strokeWidth": 2, "clip": false},
     "encoding": {"x": {"datum": 2016.828, "type": "quantitative"}, "x2": {"datum": 2029.912}, "y": {"datum": 0.3016, "type": "quantitative", "axis": null}}},
    {"data": {"name": "band"}, "mark": {"type": "area", "color": "#c9def8", "opacity": 0.18, "clip": true},
     "encoding": {"x": {"field": "t", "type": "quantitative"}, "y": {"field": "lo", "type": "quantitative", "axis": null}, "y2": {"field": "hi"}}},
    {"data": {"name": "years"}, "mark": {"type": "rule", "color": "#d6d6d6", "strokeWidth": 2},
     "encoding": {"x": {"field": "t", "type": "quantitative"}, "y": {"datum": 0.2861, "type": "quantitative", "axis": null}, "y2": {"datum": 0.1125}}},
    {"data": {"values": [{}]}, "mark": {"type": "rule", "color": "#d3d3d3", "strokeWidth": 2},
     "encoding": {"x": {"datum": 2028.058, "type": "quantitative"}, "y": {"datum": 0.2861, "type": "quantitative", "axis": null}, "y2": {"datum": 0.1125}}}
   ]
  },
  {"data": {"name": "vol"}, "mark": {"type": "rule", "strokeWidth": 1.3, "clip": true},
   "encoding": {"x": {"field": "t", "type": "quantitative"},
    "y": {"field": "v", "type": "quantitative", "scale": {"domain": [0, 415], "nice": false}, "axis": null}, "y2": {"datum": 0},
    "color": {"condition": {"test": "datum.d == 'u'", "value": "#93c7a6"}, "value": "#f2a3a3"}}},
  {
   "layer": [
    {"data": {"name": "boll"}, "mark": {"type": "line", "color": "#cccccc", "strokeWidth": 1, "clip": true},
     "encoding": {"x": {"field": "t", "type": "quantitative"}, "y": {"field": "p", "type": "quantitative", "scale": {"domain": [0.1125, 0.3021], "nice": false, "zero": false}}}},
    {"data": {"name": "sma"}, "mark": {"type": "line", "color": "#86c9f4", "strokeWidth": 2.2, "clip": true},
     "encoding": {"x": {"field": "t", "type": "quantitative"}, "y": {"field": "p", "type": "quantitative"}}},
    {"data": {"values": [{}]}, "mark": {"type": "text", "text": "PCBOLSA.COM - Historico\u00a0 Rent:", "align": "left", "baseline": "alphabetic", "fontSize": 21, "fontWeight": "bold", "color": "#333333"},
     "encoding": {"x": {"datum": 2016.915, "type": "quantitative"}, "y": {"datum": 0.2921, "type": "quantitative"}}},
    {"data": {"values": [{}]}, "mark": {"type": "text", "text": "23,95%", "align": "left", "baseline": "alphabetic", "fontSize": 21, "fontWeight": "bold", "color": "#2e9e6e"},
     "encoding": {"x": {"datum": 2024.157, "type": "quantitative"}, "y": {"datum": 0.2921, "type": "quantitative"}}},
    {"data": {"values": [{}]}, "mark": {"type": "text", "text": "SMA (100)", "align": "left", "baseline": "alphabetic", "fontSize": 20, "color": "#90cdf6"},
     "encoding": {"x": {"datum": 2017.283, "type": "quantitative"}, "y": {"datum": 0.2743, "type": "quantitative"}}},
    {"data": {"values": [{}]}, "mark": {"type": "text", "text": "BOLL (20,2)", "align": "left", "baseline": "alphabetic", "fontSize": 20, "color": "#d2d2d2"},
     "encoding": {"x": {"datum": 2019.102, "type": "quantitative"}, "y": {"datum": 0.2743, "type": "quantitative"}}},
    {"data": {"name": "price"}, "mark": {"type": "line", "color": "#000000", "strokeWidth": 2.1, "clip": true},
     "encoding": {
      "x": {"field": "t", "type": "quantitative", "scale": {"domain": [2016.828, 2028.058], "nice": false, "zero": false},
       "axis": {"orient": "bottom", "values": [2018, 2021, 2024], "format": "d", "grid": false, "ticks": false, "domain": false, "labelFontSize": 23, "labelFontWeight": "bold", "labelColor": "#2b2b2b", "labelPadding": 22, "labelBaseline": "alphabetic", "labelOffset": 15, "labelFont": "Roboto", "zindex": 2, "title": null, "labelFlush": false, "labelOverlap": false}},
      "y": {"field": "p", "type": "quantitative",
       "axis": {"orient": "right", "values": [0.1181, 0.1711, 0.224, 0.277], "labelExpr": "replace(format(datum.value, '.4f'), '.', ',')", "grid": true, "gridColor": "#e6e6e6", "gridWidth": 2, "ticks": false, "domain": false, "labelFontSize": 21, "labelColor": "#222222", "labelFont": "Roboto", "labelPadding": 2, "labelBaseline": "alphabetic", "labelOffset": -6, "title": null, "labelFlush": false, "labelOverlap": false}}}},
    {"data": {"name": "draw"}, "transform": [{"filter": "datum.g == 'trend'"}], "mark": {"type": "line", "color": "#000000", "strokeWidth": 4.5, "clip": true},
     "encoding": {"x": {"field": "t", "type": "quantitative"}, "y": {"field": "p", "type": "quantitative"}, "detail": {"field": "g"}}},
    {"data": {"name": "draw"}, "transform": [{"filter": "datum.g == 'v1' || datum.g == 'v2'"}], "mark": {"type": "line", "color": "#000000", "strokeWidth": 7.5, "clip": true},
     "encoding": {"x": {"field": "t", "type": "quantitative"}, "y": {"field": "p", "type": "quantitative"}, "detail": {"field": "g"}}},
    {"data": {"name": "draw"}, "transform": [{"filter": "datum.g == 'green'"}], "mark": {"type": "line", "color": "#62c05c", "strokeWidth": 7.5, "strokeCap": "round", "clip": true},
     "encoding": {"x": {"field": "t", "type": "quantitative"}, "y": {"field": "p", "type": "quantitative"}}},
    {"data": {"name": "pct"}, "mark": {"type": "text", "align": "left", "baseline": "alphabetic", "dy": 21, "fontSize": 21, "font": "Roboto"},
     "encoding": {"x": {"datum": 2028.09, "type": "quantitative"}, "y": {"field": "p", "type": "quantitative"}, "text": {"field": "lab"},
      "color": {"condition": {"test": "datum.p < 0.15", "value": "#d24848"}, "value": "#2e9e6e"}}}
   ]
  }
 ]
},
{
 "width": 642, "height": 185,
 "layer": [
  {"data": {"values": [{"lo": 70, "hi": 97.2, "z": "hi"}, {"lo": 9.5, "hi": 30, "z": "lo"}]}, "mark": {"type": "rect"},
   "encoding": {"x": {"datum": 2016.828, "type": "quantitative", "scale": {"domain": [2016.828, 2028.058], "nice": false, "zero": false}, "axis": null}, "x2": {"datum": 2028.058},
    "y": {"field": "lo", "type": "quantitative", "scale": {"domain": [9.5, 97.2], "nice": false, "zero": false}}, "y2": {"field": "hi"},
    "color": {"condition": {"test": "datum.z == 'hi'", "value": "#fde6e6"}, "value": "#e7fbe4"}}},
  {"data": {"values": [{"r": 30}, {"r": 50}, {"r": 70}]}, "mark": {"type": "rule", "color": "#e3e3e3", "strokeWidth": 2.5},
   "encoding": {"y": {"field": "r", "type": "quantitative",
    "axis": {"orient": "right", "values": [30, 50, 70], "grid": false, "ticks": false, "domain": false, "labelFontSize": 20, "labelFontWeight": "bold", "labelFont": "Roboto",
     "labelColor": {"expr": "datum.value == 70 ? '#d24848' : (datum.value == 30 ? '#2e9e6e' : '#222222')"}, "labelBaseline": "alphabetic", "labelOffset": 14, "labelPadding": 5, "title": null, "labelFlush": false, "labelOverlap": false}}}},
  {"data": {"name": "years"}, "mark": {"type": "rule", "color": "#d3d3d3", "strokeWidth": 2, "opacity": 0.9},
   "encoding": {"x": {"field": "t", "type": "quantitative", "axis": null}}},
  {"data": {"values": [{}]}, "mark": {"type": "rule", "color": "#d3d3d3", "strokeWidth": 2},
   "encoding": {"x": {"datum": 2028.058, "type": "quantitative", "axis": null}}},
  {"data": {"values": [{}]}, "mark": {"type": "rule", "color": "#d9d9d9", "strokeWidth": 2},
   "encoding": {"y": {"datum": 9.5, "type": "quantitative"}}},
  {"data": {"name": "rsi"}, "mark": {"type": "line", "color": "#000000", "strokeWidth": 1.8, "clip": true},
   "encoding": {"x": {"field": "t", "type": "quantitative", "axis": null}, "y": {"field": "r", "type": "quantitative"}}},
  {"data": {"name": "rsiHi"}, "mark": {"type": "line", "color": "#6e0505", "strokeWidth": 1.9, "clip": true},
   "encoding": {"x": {"field": "t", "type": "quantitative", "axis": null}, "y": {"field": "r", "type": "quantitative"}, "detail": {"field": "g"}}},
  {"data": {"name": "rsiLo"}, "mark": {"type": "line", "color": "#0d5e0d", "strokeWidth": 1.9, "clip": true},
   "encoding": {"x": {"field": "t", "type": "quantitative", "axis": null}, "y": {"field": "r", "type": "quantitative"}, "detail": {"field": "g"}}},
  {"data": {"values": [{}]}, "mark": {"type": "text", "text": "RSI (14) 68.0", "align": "left", "baseline": "alphabetic", "fontSize": 20, "fontWeight": "bold", "color": "#6b2d2d"},
   "encoding": {"x": {"datum": 2017.895, "type": "quantitative", "axis": null}, "y": {"datum": 86.6, "type": "quantitative"}}}
 ]
}
]
}
